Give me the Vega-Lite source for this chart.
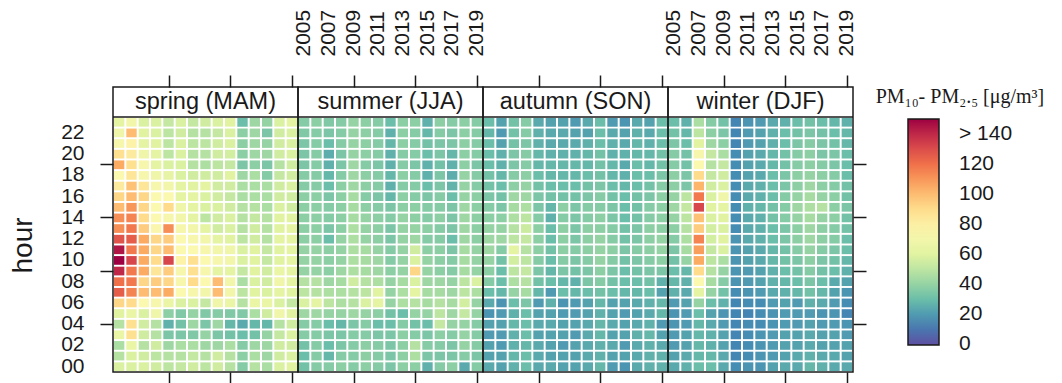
{
"$schema": "https://vega.github.io/schema/vega-lite/v6.json",
"background": "white",
"padding": {"left": 8, "top": 8, "right": 5, "bottom": 5},
"datasets": {
"sp": [
{"y":2005,"h":23,"v":62},{"y":2006,"h":23,"v":70},{"y":2007,"h":23,"v":58},{"y":2008,"h":23,"v":58},{"y":2009,"h":23,"v":52},{"y":2010,"h":23,"v":58},{"y":2011,"h":23,"v":52},{"y":2012,"h":23,"v":55},{"y":2013,"h":23,"v":58},{"y":2014,"h":23,"v":60},{"y":2015,"h":23,"v":30},{"y":2016,"h":23,"v":42},{"y":2017,"h":23,"v":40},{"y":2018,"h":23,"v":58},{"y":2019,"h":23,"v":62},
{"y":2005,"h":22,"v":68},{"y":2006,"h":22,"v":100},{"y":2007,"h":22,"v":60},{"y":2008,"h":22,"v":58},{"y":2009,"h":22,"v":50},{"y":2010,"h":22,"v":55},{"y":2011,"h":22,"v":48},{"y":2012,"h":22,"v":48},{"y":2013,"h":22,"v":52},{"y":2014,"h":22,"v":58},{"y":2015,"h":22,"v":38},{"y":2016,"h":22,"v":42},{"y":2017,"h":22,"v":34},{"y":2018,"h":22,"v":55},{"y":2019,"h":22,"v":58},
{"y":2005,"h":21,"v":72},{"y":2006,"h":21,"v":78},{"y":2007,"h":21,"v":62},{"y":2008,"h":21,"v":60},{"y":2009,"h":21,"v":50},{"y":2010,"h":21,"v":58},{"y":2011,"h":21,"v":50},{"y":2012,"h":21,"v":50},{"y":2013,"h":21,"v":55},{"y":2014,"h":21,"v":58},{"y":2015,"h":21,"v":38},{"y":2016,"h":21,"v":42},{"y":2017,"h":21,"v":40},{"y":2018,"h":21,"v":55},{"y":2019,"h":21,"v":58},
{"y":2005,"h":20,"v":88},{"y":2006,"h":20,"v":82},{"y":2007,"h":20,"v":68},{"y":2008,"h":20,"v":62},{"y":2009,"h":20,"v":50},{"y":2010,"h":20,"v":58},{"y":2011,"h":20,"v":48},{"y":2012,"h":20,"v":48},{"y":2013,"h":20,"v":55},{"y":2014,"h":20,"v":56},{"y":2015,"h":20,"v":38},{"y":2016,"h":20,"v":42},{"y":2017,"h":20,"v":42},{"y":2018,"h":20,"v":55},{"y":2019,"h":20,"v":58},
{"y":2005,"h":19,"v":105},{"y":2006,"h":19,"v":88},{"y":2007,"h":19,"v":72},{"y":2008,"h":19,"v":62},{"y":2009,"h":19,"v":58},{"y":2010,"h":19,"v":58},{"y":2011,"h":19,"v":48},{"y":2012,"h":19,"v":46},{"y":2013,"h":19,"v":50},{"y":2014,"h":19,"v":52},{"y":2015,"h":19,"v":34},{"y":2016,"h":19,"v":38},{"y":2017,"h":19,"v":34},{"y":2018,"h":19,"v":48},{"y":2019,"h":19,"v":55},
{"y":2005,"h":18,"v":75},{"y":2006,"h":18,"v":85},{"y":2007,"h":18,"v":72},{"y":2008,"h":18,"v":68},{"y":2009,"h":18,"v":64},{"y":2010,"h":18,"v":58},{"y":2011,"h":18,"v":55},{"y":2012,"h":18,"v":55},{"y":2013,"h":18,"v":55},{"y":2014,"h":18,"v":60},{"y":2015,"h":18,"v":42},{"y":2016,"h":18,"v":45},{"y":2017,"h":18,"v":36},{"y":2018,"h":18,"v":52},{"y":2019,"h":18,"v":55},
{"y":2005,"h":17,"v":82},{"y":2006,"h":17,"v":98},{"y":2007,"h":17,"v":85},{"y":2008,"h":17,"v":72},{"y":2009,"h":17,"v":70},{"y":2010,"h":17,"v":62},{"y":2011,"h":17,"v":60},{"y":2012,"h":17,"v":62},{"y":2013,"h":17,"v":55},{"y":2014,"h":17,"v":55},{"y":2015,"h":17,"v":45},{"y":2016,"h":17,"v":45},{"y":2017,"h":17,"v":45},{"y":2018,"h":17,"v":55},{"y":2019,"h":17,"v":58},
{"y":2005,"h":16,"v":92},{"y":2006,"h":16,"v":100},{"y":2007,"h":16,"v":92},{"y":2008,"h":16,"v":75},{"y":2009,"h":16,"v":75},{"y":2010,"h":16,"v":62},{"y":2011,"h":16,"v":62},{"y":2012,"h":16,"v":58},{"y":2013,"h":16,"v":55},{"y":2014,"h":16,"v":52},{"y":2015,"h":16,"v":45},{"y":2016,"h":16,"v":45},{"y":2017,"h":16,"v":45},{"y":2018,"h":16,"v":55},{"y":2019,"h":16,"v":55},
{"y":2005,"h":15,"v":100},{"y":2006,"h":15,"v":110},{"y":2007,"h":15,"v":92},{"y":2008,"h":15,"v":75},{"y":2009,"h":15,"v":90},{"y":2010,"h":15,"v":68},{"y":2011,"h":15,"v":62},{"y":2012,"h":15,"v":58},{"y":2013,"h":15,"v":58},{"y":2014,"h":15,"v":55},{"y":2015,"h":15,"v":48},{"y":2016,"h":15,"v":48},{"y":2017,"h":15,"v":45},{"y":2018,"h":15,"v":58},{"y":2019,"h":15,"v":55},
{"y":2005,"h":14,"v":112},{"y":2006,"h":14,"v":115},{"y":2007,"h":14,"v":90},{"y":2008,"h":14,"v":75},{"y":2009,"h":14,"v":72},{"y":2010,"h":14,"v":70},{"y":2011,"h":14,"v":62},{"y":2012,"h":14,"v":50},{"y":2013,"h":14,"v":55},{"y":2014,"h":14,"v":58},{"y":2015,"h":14,"v":48},{"y":2016,"h":14,"v":52},{"y":2017,"h":14,"v":48},{"y":2018,"h":14,"v":60},{"y":2019,"h":14,"v":60},
{"y":2005,"h":13,"v":112},{"y":2006,"h":13,"v":118},{"y":2007,"h":13,"v":95},{"y":2008,"h":13,"v":76},{"y":2009,"h":13,"v":112},{"y":2010,"h":13,"v":72},{"y":2011,"h":13,"v":70},{"y":2012,"h":13,"v":62},{"y":2013,"h":13,"v":55},{"y":2014,"h":13,"v":58},{"y":2015,"h":13,"v":48},{"y":2016,"h":13,"v":55},{"y":2017,"h":13,"v":48},{"y":2018,"h":13,"v":60},{"y":2019,"h":13,"v":62},
{"y":2005,"h":12,"v":128},{"y":2006,"h":12,"v":125},{"y":2007,"h":12,"v":105},{"y":2008,"h":12,"v":92},{"y":2009,"h":12,"v":95},{"y":2010,"h":12,"v":75},{"y":2011,"h":12,"v":72},{"y":2012,"h":12,"v":70},{"y":2013,"h":12,"v":62},{"y":2014,"h":12,"v":60},{"y":2015,"h":12,"v":50},{"y":2016,"h":12,"v":55},{"y":2017,"h":12,"v":48},{"y":2018,"h":12,"v":62},{"y":2019,"h":12,"v":62},
{"y":2005,"h":11,"v":145},{"y":2006,"h":11,"v":118},{"y":2007,"h":11,"v":105},{"y":2008,"h":11,"v":92},{"y":2009,"h":11,"v":100},{"y":2010,"h":11,"v":75},{"y":2011,"h":11,"v":75},{"y":2012,"h":11,"v":72},{"y":2013,"h":11,"v":70},{"y":2014,"h":11,"v":68},{"y":2015,"h":11,"v":58},{"y":2016,"h":11,"v":60},{"y":2017,"h":11,"v":52},{"y":2018,"h":11,"v":60},{"y":2019,"h":11,"v":62},
{"y":2005,"h":10,"v":158},{"y":2006,"h":10,"v":132},{"y":2007,"h":10,"v":105},{"y":2008,"h":10,"v":90},{"y":2009,"h":10,"v":132},{"y":2010,"h":10,"v":78},{"y":2011,"h":10,"v":88},{"y":2012,"h":10,"v":75},{"y":2013,"h":10,"v":72},{"y":2014,"h":10,"v":70},{"y":2015,"h":10,"v":58},{"y":2016,"h":10,"v":60},{"y":2017,"h":10,"v":52},{"y":2018,"h":10,"v":60},{"y":2019,"h":10,"v":62},
{"y":2005,"h":9,"v":140},{"y":2006,"h":9,"v":118},{"y":2007,"h":9,"v":105},{"y":2008,"h":9,"v":85},{"y":2009,"h":9,"v":95},{"y":2010,"h":9,"v":72},{"y":2011,"h":9,"v":88},{"y":2012,"h":9,"v":72},{"y":2013,"h":9,"v":62},{"y":2014,"h":9,"v":62},{"y":2015,"h":9,"v":52},{"y":2016,"h":9,"v":60},{"y":2017,"h":9,"v":55},{"y":2018,"h":9,"v":65},{"y":2019,"h":9,"v":62},
{"y":2005,"h":8,"v":120},{"y":2006,"h":8,"v":118},{"y":2007,"h":8,"v":92},{"y":2008,"h":8,"v":95},{"y":2009,"h":8,"v":92},{"y":2010,"h":8,"v":72},{"y":2011,"h":8,"v":90},{"y":2012,"h":8,"v":75},{"y":2013,"h":8,"v":100},{"y":2014,"h":8,"v":70},{"y":2015,"h":8,"v":45},{"y":2016,"h":8,"v":58},{"y":2017,"h":8,"v":55},{"y":2018,"h":8,"v":68},{"y":2019,"h":8,"v":62},
{"y":2005,"h":7,"v":125},{"y":2006,"h":7,"v":115},{"y":2007,"h":7,"v":100},{"y":2008,"h":7,"v":100},{"y":2009,"h":7,"v":105},{"y":2010,"h":7,"v":75},{"y":2011,"h":7,"v":72},{"y":2012,"h":7,"v":70},{"y":2013,"h":7,"v":100},{"y":2014,"h":7,"v":70},{"y":2015,"h":7,"v":50},{"y":2016,"h":7,"v":60},{"y":2017,"h":7,"v":58},{"y":2018,"h":7,"v":62},{"y":2019,"h":7,"v":60},
{"y":2005,"h":6,"v":92},{"y":2006,"h":6,"v":90},{"y":2007,"h":6,"v":75},{"y":2008,"h":6,"v":72},{"y":2009,"h":6,"v":65},{"y":2010,"h":6,"v":58},{"y":2011,"h":6,"v":58},{"y":2012,"h":6,"v":52},{"y":2013,"h":6,"v":68},{"y":2014,"h":6,"v":65},{"y":2015,"h":6,"v":48},{"y":2016,"h":6,"v":65},{"y":2017,"h":6,"v":65},{"y":2018,"h":6,"v":58},{"y":2019,"h":6,"v":52},
{"y":2005,"h":5,"v":60},{"y":2006,"h":5,"v":65},{"y":2007,"h":5,"v":58},{"y":2008,"h":5,"v":68},{"y":2009,"h":5,"v":38},{"y":2010,"h":5,"v":35},{"y":2011,"h":5,"v":40},{"y":2012,"h":5,"v":35},{"y":2013,"h":5,"v":36},{"y":2014,"h":5,"v":35},{"y":2015,"h":5,"v":35},{"y":2016,"h":5,"v":45},{"y":2017,"h":5,"v":55},{"y":2018,"h":5,"v":68},{"y":2019,"h":5,"v":60},
{"y":2005,"h":4,"v":48},{"y":2006,"h":4,"v":88},{"y":2007,"h":4,"v":55},{"y":2008,"h":4,"v":48},{"y":2009,"h":4,"v":26},{"y":2010,"h":4,"v":32},{"y":2011,"h":4,"v":42},{"y":2012,"h":4,"v":34},{"y":2013,"h":4,"v":42},{"y":2014,"h":4,"v":28},{"y":2015,"h":4,"v":24},{"y":2016,"h":4,"v":28},{"y":2017,"h":4,"v":28},{"y":2018,"h":4,"v":48},{"y":2019,"h":4,"v":55},
{"y":2005,"h":3,"v":65},{"y":2006,"h":3,"v":88},{"y":2007,"h":3,"v":55},{"y":2008,"h":3,"v":48},{"y":2009,"h":3,"v":34},{"y":2010,"h":3,"v":34},{"y":2011,"h":3,"v":35},{"y":2012,"h":3,"v":40},{"y":2013,"h":3,"v":34},{"y":2014,"h":3,"v":32},{"y":2015,"h":3,"v":30},{"y":2016,"h":3,"v":32},{"y":2017,"h":3,"v":40},{"y":2018,"h":3,"v":52},{"y":2019,"h":3,"v":58},
{"y":2005,"h":2,"v":45},{"y":2006,"h":2,"v":65},{"y":2007,"h":2,"v":48},{"y":2008,"h":2,"v":55},{"y":2009,"h":2,"v":42},{"y":2010,"h":2,"v":45},{"y":2011,"h":2,"v":45},{"y":2012,"h":2,"v":42},{"y":2013,"h":2,"v":42},{"y":2014,"h":2,"v":45},{"y":2015,"h":2,"v":36},{"y":2016,"h":2,"v":42},{"y":2017,"h":2,"v":42},{"y":2018,"h":2,"v":55},{"y":2019,"h":2,"v":55},
{"y":2005,"h":1,"v":48},{"y":2006,"h":1,"v":58},{"y":2007,"h":1,"v":55},{"y":2008,"h":1,"v":50},{"y":2009,"h":1,"v":48},{"y":2010,"h":1,"v":48},{"y":2011,"h":1,"v":52},{"y":2012,"h":1,"v":48},{"y":2013,"h":1,"v":55},{"y":2014,"h":1,"v":48},{"y":2015,"h":1,"v":38},{"y":2016,"h":1,"v":45},{"y":2017,"h":1,"v":42},{"y":2018,"h":1,"v":55},{"y":2019,"h":1,"v":58},
{"y":2005,"h":0,"v":58},{"y":2006,"h":0,"v":58},{"y":2007,"h":0,"v":58},{"y":2008,"h":0,"v":55},{"y":2009,"h":0,"v":50},{"y":2010,"h":0,"v":52},{"y":2011,"h":0,"v":55},{"y":2012,"h":0,"v":50},{"y":2013,"h":0,"v":55},{"y":2014,"h":0,"v":48},{"y":2015,"h":0,"v":36},{"y":2016,"h":0,"v":48},{"y":2017,"h":0,"v":45},{"y":2018,"h":0,"v":58},{"y":2019,"h":0,"v":60}
],
"su": [
{"y":2005,"h":23,"v":36},{"y":2006,"h":23,"v":38},{"y":2007,"h":23,"v":35},{"y":2008,"h":23,"v":36},{"y":2009,"h":23,"v":40},{"y":2010,"h":23,"v":38},{"y":2011,"h":23,"v":36},{"y":2012,"h":23,"v":30},{"y":2013,"h":23,"v":38},{"y":2014,"h":23,"v":38},{"y":2015,"h":23,"v":26},{"y":2016,"h":23,"v":38},{"y":2017,"h":23,"v":36},{"y":2018,"h":23,"v":38},{"y":2019,"h":23,"v":36},
{"y":2005,"h":22,"v":35},{"y":2006,"h":22,"v":36},{"y":2007,"h":22,"v":34},{"y":2008,"h":22,"v":36},{"y":2009,"h":22,"v":40},{"y":2010,"h":22,"v":38},{"y":2011,"h":22,"v":36},{"y":2012,"h":22,"v":26},{"y":2013,"h":22,"v":38},{"y":2014,"h":22,"v":36},{"y":2015,"h":22,"v":28},{"y":2016,"h":22,"v":36},{"y":2017,"h":22,"v":34},{"y":2018,"h":22,"v":38},{"y":2019,"h":22,"v":36},
{"y":2005,"h":21,"v":34},{"y":2006,"h":21,"v":36},{"y":2007,"h":21,"v":30},{"y":2008,"h":21,"v":36},{"y":2009,"h":21,"v":40},{"y":2010,"h":21,"v":38},{"y":2011,"h":21,"v":36},{"y":2012,"h":21,"v":28},{"y":2013,"h":21,"v":38},{"y":2014,"h":21,"v":36},{"y":2015,"h":21,"v":32},{"y":2016,"h":21,"v":34},{"y":2017,"h":21,"v":34},{"y":2018,"h":21,"v":38},{"y":2019,"h":21,"v":36},
{"y":2005,"h":20,"v":34},{"y":2006,"h":20,"v":36},{"y":2007,"h":20,"v":25},{"y":2008,"h":20,"v":34},{"y":2009,"h":20,"v":40},{"y":2010,"h":20,"v":38},{"y":2011,"h":20,"v":36},{"y":2012,"h":20,"v":26},{"y":2013,"h":20,"v":36},{"y":2014,"h":20,"v":36},{"y":2015,"h":20,"v":30},{"y":2016,"h":20,"v":34},{"y":2017,"h":20,"v":28},{"y":2018,"h":20,"v":38},{"y":2019,"h":20,"v":36},
{"y":2005,"h":19,"v":34},{"y":2006,"h":19,"v":36},{"y":2007,"h":19,"v":26},{"y":2008,"h":19,"v":34},{"y":2009,"h":19,"v":42},{"y":2010,"h":19,"v":36},{"y":2011,"h":19,"v":34},{"y":2012,"h":19,"v":26},{"y":2013,"h":19,"v":36},{"y":2014,"h":19,"v":34},{"y":2015,"h":19,"v":26},{"y":2016,"h":19,"v":32},{"y":2017,"h":19,"v":26},{"y":2018,"h":19,"v":38},{"y":2019,"h":19,"v":34},
{"y":2005,"h":18,"v":36},{"y":2006,"h":18,"v":36},{"y":2007,"h":18,"v":28},{"y":2008,"h":18,"v":36},{"y":2009,"h":18,"v":42},{"y":2010,"h":18,"v":38},{"y":2011,"h":18,"v":36},{"y":2012,"h":18,"v":28},{"y":2013,"h":18,"v":38},{"y":2014,"h":18,"v":36},{"y":2015,"h":18,"v":26},{"y":2016,"h":18,"v":34},{"y":2017,"h":18,"v":25},{"y":2018,"h":18,"v":40},{"y":2019,"h":18,"v":36},
{"y":2005,"h":17,"v":36},{"y":2006,"h":17,"v":36},{"y":2007,"h":17,"v":30},{"y":2008,"h":17,"v":38},{"y":2009,"h":17,"v":42},{"y":2010,"h":17,"v":38},{"y":2011,"h":17,"v":36},{"y":2012,"h":17,"v":26},{"y":2013,"h":17,"v":36},{"y":2014,"h":17,"v":36},{"y":2015,"h":17,"v":30},{"y":2016,"h":17,"v":34},{"y":2017,"h":17,"v":27},{"y":2018,"h":17,"v":40},{"y":2019,"h":17,"v":36},
{"y":2005,"h":16,"v":38},{"y":2006,"h":16,"v":38},{"y":2007,"h":16,"v":34},{"y":2008,"h":16,"v":38},{"y":2009,"h":16,"v":44},{"y":2010,"h":16,"v":36},{"y":2011,"h":16,"v":34},{"y":2012,"h":16,"v":28},{"y":2013,"h":16,"v":38},{"y":2014,"h":16,"v":36},{"y":2015,"h":16,"v":34},{"y":2016,"h":16,"v":36},{"y":2017,"h":16,"v":30},{"y":2018,"h":16,"v":40},{"y":2019,"h":16,"v":38},
{"y":2005,"h":15,"v":38},{"y":2006,"h":15,"v":38},{"y":2007,"h":15,"v":36},{"y":2008,"h":15,"v":38},{"y":2009,"h":15,"v":44},{"y":2010,"h":15,"v":38},{"y":2011,"h":15,"v":36},{"y":2012,"h":15,"v":34},{"y":2013,"h":15,"v":38},{"y":2014,"h":15,"v":38},{"y":2015,"h":15,"v":36},{"y":2016,"h":15,"v":36},{"y":2017,"h":15,"v":34},{"y":2018,"h":15,"v":42},{"y":2019,"h":15,"v":38},
{"y":2005,"h":14,"v":38},{"y":2006,"h":14,"v":38},{"y":2007,"h":14,"v":36},{"y":2008,"h":14,"v":38},{"y":2009,"h":14,"v":44},{"y":2010,"h":14,"v":40},{"y":2011,"h":14,"v":38},{"y":2012,"h":14,"v":36},{"y":2013,"h":14,"v":40},{"y":2014,"h":14,"v":38},{"y":2015,"h":14,"v":36},{"y":2016,"h":14,"v":38},{"y":2017,"h":14,"v":34},{"y":2018,"h":14,"v":42},{"y":2019,"h":14,"v":38},
{"y":2005,"h":13,"v":38},{"y":2006,"h":13,"v":38},{"y":2007,"h":13,"v":34},{"y":2008,"h":13,"v":38},{"y":2009,"h":13,"v":46},{"y":2010,"h":13,"v":40},{"y":2011,"h":13,"v":38},{"y":2012,"h":13,"v":34},{"y":2013,"h":13,"v":40},{"y":2014,"h":13,"v":40},{"y":2015,"h":13,"v":38},{"y":2016,"h":13,"v":36},{"y":2017,"h":13,"v":34},{"y":2018,"h":13,"v":42},{"y":2019,"h":13,"v":38},
{"y":2005,"h":12,"v":38},{"y":2006,"h":12,"v":38},{"y":2007,"h":12,"v":30},{"y":2008,"h":12,"v":40},{"y":2009,"h":12,"v":46},{"y":2010,"h":12,"v":40},{"y":2011,"h":12,"v":38},{"y":2012,"h":12,"v":34},{"y":2013,"h":12,"v":40},{"y":2014,"h":12,"v":42},{"y":2015,"h":12,"v":36},{"y":2016,"h":12,"v":36},{"y":2017,"h":12,"v":30},{"y":2018,"h":12,"v":42},{"y":2019,"h":12,"v":38},
{"y":2005,"h":11,"v":40},{"y":2006,"h":11,"v":40},{"y":2007,"h":11,"v":38},{"y":2008,"h":11,"v":40},{"y":2009,"h":11,"v":46},{"y":2010,"h":11,"v":44},{"y":2011,"h":11,"v":40},{"y":2012,"h":11,"v":36},{"y":2013,"h":11,"v":40},{"y":2014,"h":11,"v":55},{"y":2015,"h":11,"v":38},{"y":2016,"h":11,"v":38},{"y":2017,"h":11,"v":34},{"y":2018,"h":11,"v":44},{"y":2019,"h":11,"v":40},
{"y":2005,"h":10,"v":40},{"y":2006,"h":10,"v":40},{"y":2007,"h":10,"v":38},{"y":2008,"h":10,"v":40},{"y":2009,"h":10,"v":46},{"y":2010,"h":10,"v":44},{"y":2011,"h":10,"v":42},{"y":2012,"h":10,"v":36},{"y":2013,"h":10,"v":40},{"y":2014,"h":10,"v":58},{"y":2015,"h":10,"v":40},{"y":2016,"h":10,"v":38},{"y":2017,"h":10,"v":36},{"y":2018,"h":10,"v":44},{"y":2019,"h":10,"v":40},
{"y":2005,"h":9,"v":40},{"y":2006,"h":9,"v":40},{"y":2007,"h":9,"v":38},{"y":2008,"h":9,"v":42},{"y":2009,"h":9,"v":46},{"y":2010,"h":9,"v":44},{"y":2011,"h":9,"v":42},{"y":2012,"h":9,"v":38},{"y":2013,"h":9,"v":40},{"y":2014,"h":9,"v":92},{"y":2015,"h":9,"v":40},{"y":2016,"h":9,"v":38},{"y":2017,"h":9,"v":36},{"y":2018,"h":9,"v":44},{"y":2019,"h":9,"v":40},
{"y":2005,"h":8,"v":48},{"y":2006,"h":8,"v":48},{"y":2007,"h":8,"v":42},{"y":2008,"h":8,"v":44},{"y":2009,"h":8,"v":55},{"y":2010,"h":8,"v":48},{"y":2011,"h":8,"v":46},{"y":2012,"h":8,"v":40},{"y":2013,"h":8,"v":44},{"y":2014,"h":8,"v":58},{"y":2015,"h":8,"v":42},{"y":2016,"h":8,"v":42},{"y":2017,"h":8,"v":40},{"y":2018,"h":8,"v":50},{"y":2019,"h":8,"v":58},
{"y":2005,"h":7,"v":50},{"y":2006,"h":7,"v":48},{"y":2007,"h":7,"v":46},{"y":2008,"h":7,"v":46},{"y":2009,"h":7,"v":48},{"y":2010,"h":7,"v":50},{"y":2011,"h":7,"v":60},{"y":2012,"h":7,"v":40},{"y":2013,"h":7,"v":46},{"y":2014,"h":7,"v":62},{"y":2015,"h":7,"v":44},{"y":2016,"h":7,"v":44},{"y":2017,"h":7,"v":42},{"y":2018,"h":7,"v":50},{"y":2019,"h":7,"v":46},
{"y":2005,"h":6,"v":58},{"y":2006,"h":6,"v":62},{"y":2007,"h":6,"v":50},{"y":2008,"h":6,"v":46},{"y":2009,"h":6,"v":48},{"y":2010,"h":6,"v":58},{"y":2011,"h":6,"v":62},{"y":2012,"h":6,"v":40},{"y":2013,"h":6,"v":46},{"y":2014,"h":6,"v":48},{"y":2015,"h":6,"v":44},{"y":2016,"h":6,"v":48},{"y":2017,"h":6,"v":44},{"y":2018,"h":6,"v":56},{"y":2019,"h":6,"v":40},
{"y":2005,"h":5,"v":42},{"y":2006,"h":5,"v":42},{"y":2007,"h":5,"v":40},{"y":2008,"h":5,"v":40},{"y":2009,"h":5,"v":42},{"y":2010,"h":5,"v":40},{"y":2011,"h":5,"v":38},{"y":2012,"h":5,"v":32},{"y":2013,"h":5,"v":30},{"y":2014,"h":5,"v":40},{"y":2015,"h":5,"v":40},{"y":2016,"h":5,"v":50},{"y":2017,"h":5,"v":42},{"y":2018,"h":5,"v":52},{"y":2019,"h":5,"v":40},
{"y":2005,"h":4,"v":36},{"y":2006,"h":4,"v":36},{"y":2007,"h":4,"v":30},{"y":2008,"h":4,"v":28},{"y":2009,"h":4,"v":34},{"y":2010,"h":4,"v":36},{"y":2011,"h":4,"v":30},{"y":2012,"h":4,"v":30},{"y":2013,"h":4,"v":36},{"y":2014,"h":4,"v":32},{"y":2015,"h":4,"v":30},{"y":2016,"h":4,"v":52},{"y":2017,"h":4,"v":40},{"y":2018,"h":4,"v":40},{"y":2019,"h":4,"v":36},
{"y":2005,"h":3,"v":36},{"y":2006,"h":3,"v":36},{"y":2007,"h":3,"v":34},{"y":2008,"h":3,"v":34},{"y":2009,"h":3,"v":36},{"y":2010,"h":3,"v":36},{"y":2011,"h":3,"v":34},{"y":2012,"h":3,"v":34},{"y":2013,"h":3,"v":38},{"y":2014,"h":3,"v":36},{"y":2015,"h":3,"v":34},{"y":2016,"h":3,"v":38},{"y":2017,"h":3,"v":36},{"y":2018,"h":3,"v":40},{"y":2019,"h":3,"v":36},
{"y":2005,"h":2,"v":32},{"y":2006,"h":2,"v":36},{"y":2007,"h":2,"v":30},{"y":2008,"h":2,"v":34},{"y":2009,"h":2,"v":36},{"y":2010,"h":2,"v":38},{"y":2011,"h":2,"v":36},{"y":2012,"h":2,"v":34},{"y":2013,"h":2,"v":38},{"y":2014,"h":2,"v":48},{"y":2015,"h":2,"v":36},{"y":2016,"h":2,"v":36},{"y":2017,"h":2,"v":34},{"y":2018,"h":2,"v":40},{"y":2019,"h":2,"v":36},
{"y":2005,"h":1,"v":30},{"y":2006,"h":1,"v":36},{"y":2007,"h":1,"v":28},{"y":2008,"h":1,"v":36},{"y":2009,"h":1,"v":36},{"y":2010,"h":1,"v":38},{"y":2011,"h":1,"v":36},{"y":2012,"h":1,"v":34},{"y":2013,"h":1,"v":38},{"y":2014,"h":1,"v":46},{"y":2015,"h":1,"v":34},{"y":2016,"h":1,"v":34},{"y":2017,"h":1,"v":34},{"y":2018,"h":1,"v":36},{"y":2019,"h":1,"v":34},
{"y":2005,"h":0,"v":32},{"y":2006,"h":0,"v":36},{"y":2007,"h":0,"v":36},{"y":2008,"h":0,"v":38},{"y":2009,"h":0,"v":36},{"y":2010,"h":0,"v":38},{"y":2011,"h":0,"v":36},{"y":2012,"h":0,"v":34},{"y":2013,"h":0,"v":38},{"y":2014,"h":0,"v":38},{"y":2015,"h":0,"v":26},{"y":2016,"h":0,"v":36},{"y":2017,"h":0,"v":38},{"y":2018,"h":0,"v":24},{"y":2019,"h":0,"v":36}
],
"au": [
{"y":2005,"h":23,"v":30},{"y":2006,"h":23,"v":22},{"y":2007,"h":23,"v":32},{"y":2008,"h":23,"v":36},{"y":2009,"h":23,"v":24},{"y":2010,"h":23,"v":22},{"y":2011,"h":23,"v":22},{"y":2012,"h":23,"v":20},{"y":2013,"h":23,"v":24},{"y":2014,"h":23,"v":30},{"y":2015,"h":23,"v":20},{"y":2016,"h":23,"v":18},{"y":2017,"h":23,"v":24},{"y":2018,"h":23,"v":22},{"y":2019,"h":23,"v":30},
{"y":2005,"h":22,"v":28},{"y":2006,"h":22,"v":20},{"y":2007,"h":22,"v":32},{"y":2008,"h":22,"v":36},{"y":2009,"h":22,"v":26},{"y":2010,"h":22,"v":24},{"y":2011,"h":22,"v":24},{"y":2012,"h":22,"v":22},{"y":2013,"h":22,"v":22},{"y":2014,"h":22,"v":30},{"y":2015,"h":22,"v":24},{"y":2016,"h":22,"v":22},{"y":2017,"h":22,"v":26},{"y":2018,"h":22,"v":24},{"y":2019,"h":22,"v":30},
{"y":2005,"h":21,"v":30},{"y":2006,"h":21,"v":22},{"y":2007,"h":21,"v":32},{"y":2008,"h":21,"v":34},{"y":2009,"h":21,"v":26},{"y":2010,"h":21,"v":24},{"y":2011,"h":21,"v":24},{"y":2012,"h":21,"v":24},{"y":2013,"h":21,"v":26},{"y":2014,"h":21,"v":30},{"y":2015,"h":21,"v":26},{"y":2016,"h":21,"v":24},{"y":2017,"h":21,"v":28},{"y":2018,"h":21,"v":26},{"y":2019,"h":21,"v":30},
{"y":2005,"h":20,"v":30},{"y":2006,"h":20,"v":26},{"y":2007,"h":20,"v":34},{"y":2008,"h":20,"v":36},{"y":2009,"h":20,"v":28},{"y":2010,"h":20,"v":26},{"y":2011,"h":20,"v":26},{"y":2012,"h":20,"v":26},{"y":2013,"h":20,"v":28},{"y":2014,"h":20,"v":32},{"y":2015,"h":20,"v":26},{"y":2016,"h":20,"v":26},{"y":2017,"h":20,"v":28},{"y":2018,"h":20,"v":28},{"y":2019,"h":20,"v":32},
{"y":2005,"h":19,"v":30},{"y":2006,"h":19,"v":26},{"y":2007,"h":19,"v":34},{"y":2008,"h":19,"v":36},{"y":2009,"h":19,"v":28},{"y":2010,"h":19,"v":28},{"y":2011,"h":19,"v":28},{"y":2012,"h":19,"v":28},{"y":2013,"h":19,"v":28},{"y":2014,"h":19,"v":32},{"y":2015,"h":19,"v":28},{"y":2016,"h":19,"v":24},{"y":2017,"h":19,"v":30},{"y":2018,"h":19,"v":28},{"y":2019,"h":19,"v":32},
{"y":2005,"h":18,"v":32},{"y":2006,"h":18,"v":28},{"y":2007,"h":18,"v":36},{"y":2008,"h":18,"v":38},{"y":2009,"h":18,"v":30},{"y":2010,"h":18,"v":28},{"y":2011,"h":18,"v":28},{"y":2012,"h":18,"v":28},{"y":2013,"h":18,"v":30},{"y":2014,"h":18,"v":32},{"y":2015,"h":18,"v":28},{"y":2016,"h":18,"v":26},{"y":2017,"h":18,"v":30},{"y":2018,"h":18,"v":30},{"y":2019,"h":18,"v":34},
{"y":2005,"h":17,"v":32},{"y":2006,"h":17,"v":30},{"y":2007,"h":17,"v":38},{"y":2008,"h":17,"v":40},{"y":2009,"h":17,"v":32},{"y":2010,"h":17,"v":30},{"y":2011,"h":17,"v":30},{"y":2012,"h":17,"v":30},{"y":2013,"h":17,"v":32},{"y":2014,"h":17,"v":34},{"y":2015,"h":17,"v":30},{"y":2016,"h":17,"v":28},{"y":2017,"h":17,"v":30},{"y":2018,"h":17,"v":32},{"y":2019,"h":17,"v":36},
{"y":2005,"h":16,"v":34},{"y":2006,"h":16,"v":32},{"y":2007,"h":16,"v":42},{"y":2008,"h":16,"v":42},{"y":2009,"h":16,"v":34},{"y":2010,"h":16,"v":32},{"y":2011,"h":16,"v":32},{"y":2012,"h":16,"v":32},{"y":2013,"h":16,"v":34},{"y":2014,"h":16,"v":36},{"y":2015,"h":16,"v":32},{"y":2016,"h":16,"v":30},{"y":2017,"h":16,"v":32},{"y":2018,"h":16,"v":34},{"y":2019,"h":16,"v":38},
{"y":2005,"h":15,"v":36},{"y":2006,"h":15,"v":34},{"y":2007,"h":15,"v":44},{"y":2008,"h":15,"v":46},{"y":2009,"h":15,"v":34},{"y":2010,"h":15,"v":28},{"y":2011,"h":15,"v":38},{"y":2012,"h":15,"v":34},{"y":2013,"h":15,"v":36},{"y":2014,"h":15,"v":36},{"y":2015,"h":15,"v":34},{"y":2016,"h":15,"v":30},{"y":2017,"h":15,"v":32},{"y":2018,"h":15,"v":36},{"y":2019,"h":15,"v":38},
{"y":2005,"h":14,"v":38},{"y":2006,"h":14,"v":38},{"y":2007,"h":14,"v":46},{"y":2008,"h":14,"v":50},{"y":2009,"h":14,"v":36},{"y":2010,"h":14,"v":26},{"y":2011,"h":14,"v":36},{"y":2012,"h":14,"v":34},{"y":2013,"h":14,"v":36},{"y":2014,"h":14,"v":38},{"y":2015,"h":14,"v":34},{"y":2016,"h":14,"v":30},{"y":2017,"h":14,"v":32},{"y":2018,"h":14,"v":36},{"y":2019,"h":14,"v":38},
{"y":2005,"h":13,"v":40},{"y":2006,"h":13,"v":40},{"y":2007,"h":13,"v":48},{"y":2008,"h":13,"v":54},{"y":2009,"h":13,"v":38},{"y":2010,"h":13,"v":30},{"y":2011,"h":13,"v":38},{"y":2012,"h":13,"v":34},{"y":2013,"h":13,"v":38},{"y":2014,"h":13,"v":38},{"y":2015,"h":13,"v":36},{"y":2016,"h":13,"v":32},{"y":2017,"h":13,"v":34},{"y":2018,"h":13,"v":38},{"y":2019,"h":13,"v":38},
{"y":2005,"h":12,"v":42},{"y":2006,"h":12,"v":42},{"y":2007,"h":12,"v":50},{"y":2008,"h":12,"v":52},{"y":2009,"h":12,"v":38},{"y":2010,"h":12,"v":30},{"y":2011,"h":12,"v":38},{"y":2012,"h":12,"v":34},{"y":2013,"h":12,"v":38},{"y":2014,"h":12,"v":40},{"y":2015,"h":12,"v":36},{"y":2016,"h":12,"v":32},{"y":2017,"h":12,"v":34},{"y":2018,"h":12,"v":38},{"y":2019,"h":12,"v":40},
{"y":2005,"h":11,"v":42},{"y":2006,"h":11,"v":36},{"y":2007,"h":11,"v":62},{"y":2008,"h":11,"v":48},{"y":2009,"h":11,"v":38},{"y":2010,"h":11,"v":32},{"y":2011,"h":11,"v":38},{"y":2012,"h":11,"v":36},{"y":2013,"h":11,"v":38},{"y":2014,"h":11,"v":40},{"y":2015,"h":11,"v":38},{"y":2016,"h":11,"v":34},{"y":2017,"h":11,"v":36},{"y":2018,"h":11,"v":38},{"y":2019,"h":11,"v":40},
{"y":2005,"h":10,"v":40},{"y":2006,"h":10,"v":32},{"y":2007,"h":10,"v":56},{"y":2008,"h":10,"v":50},{"y":2009,"h":10,"v":36},{"y":2010,"h":10,"v":30},{"y":2011,"h":10,"v":36},{"y":2012,"h":10,"v":34},{"y":2013,"h":10,"v":36},{"y":2014,"h":10,"v":40},{"y":2015,"h":10,"v":36},{"y":2016,"h":10,"v":32},{"y":2017,"h":10,"v":34},{"y":2018,"h":10,"v":36},{"y":2019,"h":10,"v":38},
{"y":2005,"h":9,"v":38},{"y":2006,"h":9,"v":30},{"y":2007,"h":9,"v":50},{"y":2008,"h":9,"v":52},{"y":2009,"h":9,"v":34},{"y":2010,"h":9,"v":28},{"y":2011,"h":9,"v":34},{"y":2012,"h":9,"v":32},{"y":2013,"h":9,"v":34},{"y":2014,"h":9,"v":38},{"y":2015,"h":9,"v":34},{"y":2016,"h":9,"v":30},{"y":2017,"h":9,"v":32},{"y":2018,"h":9,"v":34},{"y":2019,"h":9,"v":34},
{"y":2005,"h":8,"v":36},{"y":2006,"h":8,"v":30},{"y":2007,"h":8,"v":46},{"y":2008,"h":8,"v":48},{"y":2009,"h":8,"v":32},{"y":2010,"h":8,"v":30},{"y":2011,"h":8,"v":28},{"y":2012,"h":8,"v":26},{"y":2013,"h":8,"v":34},{"y":2014,"h":8,"v":36},{"y":2015,"h":8,"v":32},{"y":2016,"h":8,"v":30},{"y":2017,"h":8,"v":30},{"y":2018,"h":8,"v":32},{"y":2019,"h":8,"v":26},
{"y":2005,"h":7,"v":30},{"y":2006,"h":7,"v":28},{"y":2007,"h":7,"v":40},{"y":2008,"h":7,"v":44},{"y":2009,"h":7,"v":28},{"y":2010,"h":7,"v":20},{"y":2011,"h":7,"v":30},{"y":2012,"h":7,"v":28},{"y":2013,"h":7,"v":30},{"y":2014,"h":7,"v":32},{"y":2015,"h":7,"v":30},{"y":2016,"h":7,"v":28},{"y":2017,"h":7,"v":28},{"y":2018,"h":7,"v":30},{"y":2019,"h":7,"v":22},
{"y":2005,"h":6,"v":24},{"y":2006,"h":6,"v":18},{"y":2007,"h":6,"v":30},{"y":2008,"h":6,"v":34},{"y":2009,"h":6,"v":20},{"y":2010,"h":6,"v":26},{"y":2011,"h":6,"v":18},{"y":2012,"h":6,"v":20},{"y":2013,"h":6,"v":22},{"y":2014,"h":6,"v":28},{"y":2015,"h":6,"v":22},{"y":2016,"h":6,"v":22},{"y":2017,"h":6,"v":24},{"y":2018,"h":6,"v":26},{"y":2019,"h":6,"v":28},
{"y":2005,"h":5,"v":18},{"y":2006,"h":5,"v":20},{"y":2007,"h":5,"v":26},{"y":2008,"h":5,"v":30},{"y":2009,"h":5,"v":22},{"y":2010,"h":5,"v":22},{"y":2011,"h":5,"v":20},{"y":2012,"h":5,"v":20},{"y":2013,"h":5,"v":22},{"y":2014,"h":5,"v":26},{"y":2015,"h":5,"v":22},{"y":2016,"h":5,"v":20},{"y":2017,"h":5,"v":22},{"y":2018,"h":5,"v":24},{"y":2019,"h":5,"v":28},
{"y":2005,"h":4,"v":22},{"y":2006,"h":4,"v":22},{"y":2007,"h":4,"v":28},{"y":2008,"h":4,"v":30},{"y":2009,"h":4,"v":24},{"y":2010,"h":4,"v":24},{"y":2011,"h":4,"v":22},{"y":2012,"h":4,"v":22},{"y":2013,"h":4,"v":24},{"y":2014,"h":4,"v":28},{"y":2015,"h":4,"v":24},{"y":2016,"h":4,"v":22},{"y":2017,"h":4,"v":24},{"y":2018,"h":4,"v":26},{"y":2019,"h":4,"v":20},
{"y":2005,"h":3,"v":20},{"y":2006,"h":3,"v":20},{"y":2007,"h":3,"v":26},{"y":2008,"h":3,"v":30},{"y":2009,"h":3,"v":22},{"y":2010,"h":3,"v":22},{"y":2011,"h":3,"v":22},{"y":2012,"h":3,"v":20},{"y":2013,"h":3,"v":24},{"y":2014,"h":3,"v":28},{"y":2015,"h":3,"v":22},{"y":2016,"h":3,"v":22},{"y":2017,"h":3,"v":26},{"y":2018,"h":3,"v":28},{"y":2019,"h":3,"v":22},
{"y":2005,"h":2,"v":22},{"y":2006,"h":2,"v":20},{"y":2007,"h":2,"v":26},{"y":2008,"h":2,"v":28},{"y":2009,"h":2,"v":24},{"y":2010,"h":2,"v":22},{"y":2011,"h":2,"v":20},{"y":2012,"h":2,"v":22},{"y":2013,"h":2,"v":24},{"y":2014,"h":2,"v":26},{"y":2015,"h":2,"v":24},{"y":2016,"h":2,"v":20},{"y":2017,"h":2,"v":24},{"y":2018,"h":2,"v":26},{"y":2019,"h":2,"v":24},
{"y":2005,"h":1,"v":22},{"y":2006,"h":1,"v":22},{"y":2007,"h":1,"v":28},{"y":2008,"h":1,"v":30},{"y":2009,"h":1,"v":24},{"y":2010,"h":1,"v":22},{"y":2011,"h":1,"v":22},{"y":2012,"h":1,"v":22},{"y":2013,"h":1,"v":24},{"y":2014,"h":1,"v":26},{"y":2015,"h":1,"v":22},{"y":2016,"h":1,"v":22},{"y":2017,"h":1,"v":24},{"y":2018,"h":1,"v":26},{"y":2019,"h":1,"v":26},
{"y":2005,"h":0,"v":24},{"y":2006,"h":0,"v":22},{"y":2007,"h":0,"v":26},{"y":2008,"h":0,"v":30},{"y":2009,"h":0,"v":24},{"y":2010,"h":0,"v":24},{"y":2011,"h":0,"v":22},{"y":2012,"h":0,"v":22},{"y":2013,"h":0,"v":24},{"y":2014,"h":0,"v":28},{"y":2015,"h":0,"v":20},{"y":2016,"h":0,"v":18},{"y":2017,"h":0,"v":24},{"y":2018,"h":0,"v":26},{"y":2019,"h":0,"v":26}
],
"wi": [
{"y":2005,"h":23,"v":30},{"y":2006,"h":23,"v":26},{"y":2007,"h":23,"v":45},{"y":2008,"h":23,"v":36},{"y":2009,"h":23,"v":32},{"y":2010,"h":23,"v":14},{"y":2011,"h":23,"v":18},{"y":2012,"h":23,"v":20},{"y":2013,"h":23,"v":24},{"y":2014,"h":23,"v":26},{"y":2015,"h":23,"v":30},{"y":2016,"h":23,"v":32},{"y":2017,"h":23,"v":30},{"y":2018,"h":23,"v":28},{"y":2019,"h":23,"v":26},
{"y":2005,"h":22,"v":32},{"y":2006,"h":22,"v":28},{"y":2007,"h":22,"v":50},{"y":2008,"h":22,"v":38},{"y":2009,"h":22,"v":34},{"y":2010,"h":22,"v":14},{"y":2011,"h":22,"v":20},{"y":2012,"h":22,"v":22},{"y":2013,"h":22,"v":26},{"y":2014,"h":22,"v":30},{"y":2015,"h":22,"v":32},{"y":2016,"h":22,"v":34},{"y":2017,"h":22,"v":32},{"y":2018,"h":22,"v":30},{"y":2019,"h":22,"v":28},
{"y":2005,"h":21,"v":34},{"y":2006,"h":21,"v":30},{"y":2007,"h":21,"v":60},{"y":2008,"h":21,"v":42},{"y":2009,"h":21,"v":38},{"y":2010,"h":21,"v":14},{"y":2011,"h":21,"v":20},{"y":2012,"h":21,"v":22},{"y":2013,"h":21,"v":26},{"y":2014,"h":21,"v":30},{"y":2015,"h":21,"v":34},{"y":2016,"h":21,"v":36},{"y":2017,"h":21,"v":34},{"y":2018,"h":21,"v":32},{"y":2019,"h":21,"v":28},
{"y":2005,"h":20,"v":36},{"y":2006,"h":20,"v":32},{"y":2007,"h":20,"v":72},{"y":2008,"h":20,"v":52},{"y":2009,"h":20,"v":45},{"y":2010,"h":20,"v":16},{"y":2011,"h":20,"v":22},{"y":2012,"h":20,"v":24},{"y":2013,"h":20,"v":28},{"y":2014,"h":20,"v":32},{"y":2015,"h":20,"v":36},{"y":2016,"h":20,"v":38},{"y":2017,"h":20,"v":34},{"y":2018,"h":20,"v":34},{"y":2019,"h":20,"v":30},
{"y":2005,"h":19,"v":36},{"y":2006,"h":19,"v":32},{"y":2007,"h":19,"v":75},{"y":2008,"h":19,"v":48},{"y":2009,"h":19,"v":52},{"y":2010,"h":19,"v":16},{"y":2011,"h":19,"v":22},{"y":2012,"h":19,"v":24},{"y":2013,"h":19,"v":28},{"y":2014,"h":19,"v":32},{"y":2015,"h":19,"v":36},{"y":2016,"h":19,"v":38},{"y":2017,"h":19,"v":36},{"y":2018,"h":19,"v":34},{"y":2019,"h":19,"v":30},
{"y":2005,"h":18,"v":38},{"y":2006,"h":18,"v":34},{"y":2007,"h":18,"v":90},{"y":2008,"h":18,"v":52},{"y":2009,"h":18,"v":55},{"y":2010,"h":18,"v":16},{"y":2011,"h":18,"v":22},{"y":2012,"h":18,"v":24},{"y":2013,"h":18,"v":30},{"y":2014,"h":18,"v":34},{"y":2015,"h":18,"v":38},{"y":2016,"h":18,"v":40},{"y":2017,"h":18,"v":38},{"y":2018,"h":18,"v":36},{"y":2019,"h":18,"v":30},
{"y":2005,"h":17,"v":38},{"y":2006,"h":17,"v":34},{"y":2007,"h":17,"v":102},{"y":2008,"h":17,"v":55},{"y":2009,"h":17,"v":58},{"y":2010,"h":17,"v":16},{"y":2011,"h":17,"v":24},{"y":2012,"h":17,"v":26},{"y":2013,"h":17,"v":30},{"y":2014,"h":17,"v":34},{"y":2015,"h":17,"v":38},{"y":2016,"h":17,"v":42},{"y":2017,"h":17,"v":38},{"y":2018,"h":17,"v":36},{"y":2019,"h":17,"v":32},
{"y":2005,"h":16,"v":40},{"y":2006,"h":16,"v":50},{"y":2007,"h":16,"v":118},{"y":2008,"h":16,"v":58},{"y":2009,"h":16,"v":68},{"y":2010,"h":16,"v":16},{"y":2011,"h":16,"v":24},{"y":2012,"h":16,"v":26},{"y":2013,"h":16,"v":30},{"y":2014,"h":16,"v":36},{"y":2015,"h":16,"v":40},{"y":2016,"h":16,"v":44},{"y":2017,"h":16,"v":40},{"y":2018,"h":16,"v":38},{"y":2019,"h":16,"v":32},
{"y":2005,"h":15,"v":42},{"y":2006,"h":15,"v":52},{"y":2007,"h":15,"v":132},{"y":2008,"h":15,"v":60},{"y":2009,"h":15,"v":62},{"y":2010,"h":15,"v":16},{"y":2011,"h":15,"v":26},{"y":2012,"h":15,"v":28},{"y":2013,"h":15,"v":32},{"y":2014,"h":15,"v":36},{"y":2015,"h":15,"v":42},{"y":2016,"h":15,"v":46},{"y":2017,"h":15,"v":48},{"y":2018,"h":15,"v":38},{"y":2019,"h":15,"v":34},
{"y":2005,"h":14,"v":40},{"y":2006,"h":14,"v":50},{"y":2007,"h":14,"v":98},{"y":2008,"h":14,"v":58},{"y":2009,"h":14,"v":60},{"y":2010,"h":14,"v":16},{"y":2011,"h":14,"v":24},{"y":2012,"h":14,"v":26},{"y":2013,"h":14,"v":32},{"y":2014,"h":14,"v":36},{"y":2015,"h":14,"v":40},{"y":2016,"h":14,"v":44},{"y":2017,"h":14,"v":40},{"y":2018,"h":14,"v":38},{"y":2019,"h":14,"v":32},
{"y":2005,"h":13,"v":38},{"y":2006,"h":13,"v":48},{"y":2007,"h":13,"v":95},{"y":2008,"h":13,"v":56},{"y":2009,"h":13,"v":58},{"y":2010,"h":13,"v":16},{"y":2011,"h":13,"v":24},{"y":2012,"h":13,"v":26},{"y":2013,"h":13,"v":30},{"y":2014,"h":13,"v":34},{"y":2015,"h":13,"v":38},{"y":2016,"h":13,"v":42},{"y":2017,"h":13,"v":38},{"y":2018,"h":13,"v":36},{"y":2019,"h":13,"v":32},
{"y":2005,"h":12,"v":36},{"y":2006,"h":12,"v":46},{"y":2007,"h":12,"v":115},{"y":2008,"h":12,"v":56},{"y":2009,"h":12,"v":60},{"y":2010,"h":12,"v":18},{"y":2011,"h":12,"v":24},{"y":2012,"h":12,"v":26},{"y":2013,"h":12,"v":30},{"y":2014,"h":12,"v":34},{"y":2015,"h":12,"v":38},{"y":2016,"h":12,"v":42},{"y":2017,"h":12,"v":38},{"y":2018,"h":12,"v":36},{"y":2019,"h":12,"v":30},
{"y":2005,"h":11,"v":34},{"y":2006,"h":11,"v":44},{"y":2007,"h":11,"v":108},{"y":2008,"h":11,"v":52},{"y":2009,"h":11,"v":58},{"y":2010,"h":11,"v":18},{"y":2011,"h":11,"v":22},{"y":2012,"h":11,"v":24},{"y":2013,"h":11,"v":28},{"y":2014,"h":11,"v":32},{"y":2015,"h":11,"v":36},{"y":2016,"h":11,"v":40},{"y":2017,"h":11,"v":36},{"y":2018,"h":11,"v":34},{"y":2019,"h":11,"v":30},
{"y":2005,"h":10,"v":32},{"y":2006,"h":10,"v":40},{"y":2007,"h":10,"v":105},{"y":2008,"h":10,"v":50},{"y":2009,"h":10,"v":45},{"y":2010,"h":10,"v":18},{"y":2011,"h":10,"v":22},{"y":2012,"h":10,"v":24},{"y":2013,"h":10,"v":28},{"y":2014,"h":10,"v":32},{"y":2015,"h":10,"v":34},{"y":2016,"h":10,"v":38},{"y":2017,"h":10,"v":34},{"y":2018,"h":10,"v":32},{"y":2019,"h":10,"v":28},
{"y":2005,"h":9,"v":30},{"y":2006,"h":9,"v":28},{"y":2007,"h":9,"v":90},{"y":2008,"h":9,"v":48},{"y":2009,"h":9,"v":40},{"y":2010,"h":9,"v":18},{"y":2011,"h":9,"v":20},{"y":2012,"h":9,"v":22},{"y":2013,"h":9,"v":26},{"y":2014,"h":9,"v":30},{"y":2015,"h":9,"v":32},{"y":2016,"h":9,"v":36},{"y":2017,"h":9,"v":32},{"y":2018,"h":9,"v":30},{"y":2019,"h":9,"v":26},
{"y":2005,"h":8,"v":28},{"y":2006,"h":8,"v":26},{"y":2007,"h":8,"v":75},{"y":2008,"h":8,"v":44},{"y":2009,"h":8,"v":36},{"y":2010,"h":8,"v":18},{"y":2011,"h":8,"v":20},{"y":2012,"h":8,"v":22},{"y":2013,"h":8,"v":26},{"y":2014,"h":8,"v":28},{"y":2015,"h":8,"v":30},{"y":2016,"h":8,"v":34},{"y":2017,"h":8,"v":30},{"y":2018,"h":8,"v":24},{"y":2019,"h":8,"v":22},
{"y":2005,"h":7,"v":26},{"y":2006,"h":7,"v":24},{"y":2007,"h":7,"v":62},{"y":2008,"h":7,"v":40},{"y":2009,"h":7,"v":32},{"y":2010,"h":7,"v":16},{"y":2011,"h":7,"v":18},{"y":2012,"h":7,"v":20},{"y":2013,"h":7,"v":24},{"y":2014,"h":7,"v":26},{"y":2015,"h":7,"v":28},{"y":2016,"h":7,"v":32},{"y":2017,"h":7,"v":28},{"y":2018,"h":7,"v":22},{"y":2019,"h":7,"v":18},
{"y":2005,"h":6,"v":20},{"y":2006,"h":6,"v":22},{"y":2007,"h":6,"v":40},{"y":2008,"h":6,"v":30},{"y":2009,"h":6,"v":26},{"y":2010,"h":6,"v":14},{"y":2011,"h":6,"v":16},{"y":2012,"h":6,"v":16},{"y":2013,"h":6,"v":20},{"y":2014,"h":6,"v":22},{"y":2015,"h":6,"v":20},{"y":2016,"h":6,"v":26},{"y":2017,"h":6,"v":24},{"y":2018,"h":6,"v":20},{"y":2019,"h":6,"v":16},
{"y":2005,"h":5,"v":18},{"y":2006,"h":5,"v":20},{"y":2007,"h":5,"v":30},{"y":2008,"h":5,"v":22},{"y":2009,"h":5,"v":18},{"y":2010,"h":5,"v":14},{"y":2011,"h":5,"v":14},{"y":2012,"h":5,"v":16},{"y":2013,"h":5,"v":18},{"y":2014,"h":5,"v":20},{"y":2015,"h":5,"v":20},{"y":2016,"h":5,"v":20},{"y":2017,"h":5,"v":18},{"y":2018,"h":5,"v":18},{"y":2019,"h":5,"v":14},
{"y":2005,"h":4,"v":18},{"y":2006,"h":4,"v":20},{"y":2007,"h":4,"v":28},{"y":2008,"h":4,"v":24},{"y":2009,"h":4,"v":20},{"y":2010,"h":4,"v":14},{"y":2011,"h":4,"v":16},{"y":2012,"h":4,"v":16},{"y":2013,"h":4,"v":18},{"y":2014,"h":4,"v":20},{"y":2015,"h":4,"v":20},{"y":2016,"h":4,"v":22},{"y":2017,"h":4,"v":20},{"y":2018,"h":4,"v":20},{"y":2019,"h":4,"v":18},
{"y":2005,"h":3,"v":20},{"y":2006,"h":3,"v":22},{"y":2007,"h":3,"v":28},{"y":2008,"h":3,"v":26},{"y":2009,"h":3,"v":22},{"y":2010,"h":3,"v":14},{"y":2011,"h":3,"v":16},{"y":2012,"h":3,"v":18},{"y":2013,"h":3,"v":20},{"y":2014,"h":3,"v":22},{"y":2015,"h":3,"v":22},{"y":2016,"h":3,"v":24},{"y":2017,"h":3,"v":22},{"y":2018,"h":3,"v":22},{"y":2019,"h":3,"v":20},
{"y":2005,"h":2,"v":20},{"y":2006,"h":2,"v":22},{"y":2007,"h":2,"v":28},{"y":2008,"h":2,"v":26},{"y":2009,"h":2,"v":22},{"y":2010,"h":2,"v":14},{"y":2011,"h":2,"v":16},{"y":2012,"h":2,"v":18},{"y":2013,"h":2,"v":20},{"y":2014,"h":2,"v":22},{"y":2015,"h":2,"v":22},{"y":2016,"h":2,"v":24},{"y":2017,"h":2,"v":22},{"y":2018,"h":2,"v":22},{"y":2019,"h":2,"v":22},
{"y":2005,"h":1,"v":22},{"y":2006,"h":1,"v":24},{"y":2007,"h":1,"v":28},{"y":2008,"h":1,"v":28},{"y":2009,"h":1,"v":24},{"y":2010,"h":1,"v":14},{"y":2011,"h":1,"v":16},{"y":2012,"h":1,"v":18},{"y":2013,"h":1,"v":20},{"y":2014,"h":1,"v":22},{"y":2015,"h":1,"v":24},{"y":2016,"h":1,"v":26},{"y":2017,"h":1,"v":24},{"y":2018,"h":1,"v":24},{"y":2019,"h":1,"v":22},
{"y":2005,"h":0,"v":24},{"y":2006,"h":0,"v":26},{"y":2007,"h":0,"v":30},{"y":2008,"h":0,"v":30},{"y":2009,"h":0,"v":24},{"y":2010,"h":0,"v":16},{"y":2011,"h":0,"v":18},{"y":2012,"h":0,"v":18},{"y":2013,"h":0,"v":22},{"y":2014,"h":0,"v":24},{"y":2015,"h":0,"v":24},{"y":2016,"h":0,"v":28},{"y":2017,"h":0,"v":26},{"y":2018,"h":0,"v":24},{"y":2019,"h":0,"v":24}
]
},
"config": {
"view": {"stroke": "#1a1a1a", "strokeWidth": 1.5},
"font": "Liberation Sans",
"axis": {"labelFont": "Liberation Sans", "labelFontSize": 21, "labelColor": "#1a1a1a", "tickColor": "#1a1a1a", "tickWidth": 1.5, "domain": false, "grid": false, "titleFont": "Liberation Sans", "titleFontWeight": "normal", "titleColor": "#1a1a1a"},
"legend": {"orient": "right", "offset": 8, "gradientLength": 226, "gradientThickness": 31, "gradientStrokeColor": "#1a1a1a", "gradientStrokeWidth": 1.5, "labelFont": "Liberation Sans", "labelFontSize": 21, "labelColor": "#1a1a1a", "labelOffset": 20, "labelOverlap": false, "titleFont": "Liberation Serif", "titleFontSize": 20, "titleFontWeight": "normal", "titleColor": "#1a1a1a", "titleAnchor": "middle", "titlePadding": 12, "titleLimit": 300}
},
"spacing": 0,
"bounds": "flush",
"hconcat": [
{
"width": 185, "height": 285,
"layer": [
{"data": {"name": "sp"}, "mark": {"type": "rect"},
"encoding": {
"x": {"field": "y", "type": "ordinal", "scale": {"paddingInner": 0.16, "paddingOuter": 0.08}, "axis": null},
"y": {"field": "h", "type": "ordinal", "scale": {"domain": [25,24,23,22,21,20,19,18,17,16,15,14,13,12,11,10,9,8,7,6,5,4,3,2,1,0], "paddingInner": 0.18, "paddingOuter": 0.5, "align": 0.91}, "axis": {"orient": "left", "values": [0,2,4,6,8,10,12,14,16,18,20,22], "labelExpr": "datum.value < 10 ? '0' + datum.value : '' + datum.value", "ticks": false, "labelPadding": 29, "title": "hour", "titleFontSize": 28, "titlePadding": 23, "titleY": 158}},
"color": {"field": "v", "type": "quantitative", "title": "PM₁₀- PM₂.₅ [μg/m³]", "scale": {"scheme": "spectral", "reverse": true, "domain": [-0.5, 150], "clamp": true}, "legend": {"values": [0,20,40,60,80,100,120,140], "labelOffset": 20, "labelExpr": "datum.value >= 140 ? '> 140' : datum.label"}}
}},
{"data": {"values": [{}]}, "mark": {"type": "rule", "color": "#1a1a1a", "strokeWidth": 1.5},
"encoding": {
"x": {"datum": 0.1, "type": "quantitative", "scale": {"domain": [0.1, 3.1], "nice": false, "zero": false}, "axis": {"orient": "bottom", "values": [1,2,3], "labels": false, "tickSize": 12, "title": null}},
"x2": {"datum": 3.1},
"y": {"datum": 4.881, "type": "quantitative", "scale": {"domain": [0.1, 5.444], "nice": false, "zero": false}, "axis": null}
}},
{"data": {"values": [{"t": "spring (MAM)"}]}, "mark": {"type": "text", "fontSize": 23.5, "font": "Liberation Sans", "color": "#1a1a1a"},
"encoding": {
"text": {"field": "t"},
"x": {"datum": 1.6, "type": "quantitative", "scale": {"domain": [0.1, 3.1], "nice": false, "zero": false}, "axis": {"orient": "top", "values": [1,2,3], "labels": false, "tickSize": 12, "title": null}},
"y": {"datum": 5.163, "type": "quantitative", "scale": {"domain": [0.1, 5.444], "nice": false, "zero": false}, "axis": {"orient": "left", "values": [1,2,3,4], "labels": false, "tickSize": 13, "title": null}}
}}
],
"resolve": {"scale": {"x": "independent", "y": "independent"}}
},
{
"width": 185, "height": 285,
"layer": [
{"data": {"name": "su"}, "mark": {"type": "rect"},
"encoding": {
"x": {"field": "y", "type": "ordinal", "scale": {"paddingInner": 0.16, "paddingOuter": 0.08}, "axis": {"orient": "top", "values": [2005,2007,2009,2011,2013,2015,2017,2019], "labelAngle": -90, "ticks": false, "labelPadding": 31, "title": null}},
"y": {"field": "h", "type": "ordinal", "scale": {"domain": [25,24,23,22,21,20,19,18,17,16,15,14,13,12,11,10,9,8,7,6,5,4,3,2,1,0], "paddingInner": 0.18, "paddingOuter": 0.5, "align": 0.91}, "axis": null},
"color": {"field": "v", "type": "quantitative", "title": "PM₁₀- PM₂.₅ [μg/m³]", "scale": {"scheme": "spectral", "reverse": true, "domain": [-0.5, 150], "clamp": true}, "legend": {"values": [0,20,40,60,80,100,120,140], "labelOffset": 20, "labelExpr": "datum.value >= 140 ? '> 140' : datum.label"}}
}},
{"data": {"values": [{}]}, "mark": {"type": "rule", "color": "#1a1a1a", "strokeWidth": 1.5},
"encoding": {
"x": {"datum": 0.1, "type": "quantitative", "scale": {"domain": [0.1, 3.1], "nice": false, "zero": false}, "axis": {"orient": "bottom", "values": [1,2,3], "labels": false, "tickSize": 12, "title": null}},
"x2": {"datum": 3.1},
"y": {"datum": 4.881, "type": "quantitative", "scale": {"domain": [0.1, 5.444], "nice": false, "zero": false}, "axis": null}
}},
{"data": {"values": [{"t": "summer (JJA)"}]}, "mark": {"type": "text", "fontSize": 23.5, "font": "Liberation Sans", "color": "#1a1a1a"},
"encoding": {
"text": {"field": "t"},
"x": {"datum": 1.6, "type": "quantitative", "scale": {"domain": [0.1, 3.1], "nice": false, "zero": false}, "axis": {"orient": "top", "values": [1,2,3], "labels": false, "tickSize": 12, "title": null}},
"y": {"datum": 5.163, "type": "quantitative", "scale": {"domain": [0.1, 5.444], "nice": false, "zero": false}, "axis": null}
}}
],
"resolve": {"scale": {"x": "independent", "y": "independent"}}
},
{
"width": 185, "height": 285,
"layer": [
{"data": {"name": "au"}, "mark": {"type": "rect"},
"encoding": {
"x": {"field": "y", "type": "ordinal", "scale": {"paddingInner": 0.16, "paddingOuter": 0.08}, "axis": null},
"y": {"field": "h", "type": "ordinal", "scale": {"domain": [25,24,23,22,21,20,19,18,17,16,15,14,13,12,11,10,9,8,7,6,5,4,3,2,1,0], "paddingInner": 0.18, "paddingOuter": 0.5, "align": 0.91}, "axis": null},
"color": {"field": "v", "type": "quantitative", "title": "PM₁₀- PM₂.₅ [μg/m³]", "scale": {"scheme": "spectral", "reverse": true, "domain": [-0.5, 150], "clamp": true}, "legend": {"values": [0,20,40,60,80,100,120,140], "labelOffset": 20, "labelExpr": "datum.value >= 140 ? '> 140' : datum.label"}}
}},
{"data": {"values": [{}]}, "mark": {"type": "rule", "color": "#1a1a1a", "strokeWidth": 1.5},
"encoding": {
"x": {"datum": 0.1, "type": "quantitative", "scale": {"domain": [0.1, 3.1], "nice": false, "zero": false}, "axis": {"orient": "bottom", "values": [1,2,3], "labels": false, "tickSize": 12, "title": null}},
"x2": {"datum": 3.1},
"y": {"datum": 4.881, "type": "quantitative", "scale": {"domain": [0.1, 5.444], "nice": false, "zero": false}, "axis": null}
}},
{"data": {"values": [{"t": "autumn (SON)"}]}, "mark": {"type": "text", "fontSize": 23.5, "font": "Liberation Sans", "color": "#1a1a1a"},
"encoding": {
"text": {"field": "t"},
"x": {"datum": 1.6, "type": "quantitative", "scale": {"domain": [0.1, 3.1], "nice": false, "zero": false}, "axis": {"orient": "top", "values": [1,2,3], "labels": false, "tickSize": 12, "title": null}},
"y": {"datum": 5.163, "type": "quantitative", "scale": {"domain": [0.1, 5.444], "nice": false, "zero": false}, "axis": null}
}}
],
"resolve": {"scale": {"x": "independent", "y": "independent"}}
},
{
"width": 185, "height": 285,
"layer": [
{"data": {"name": "wi"}, "mark": {"type": "rect"},
"encoding": {
"x": {"field": "y", "type": "ordinal", "scale": {"paddingInner": 0.16, "paddingOuter": 0.08}, "axis": {"orient": "top", "values": [2005,2007,2009,2011,2013,2015,2017,2019], "labelAngle": -90, "ticks": false, "labelPadding": 31, "title": null}},
"y": {"field": "h", "type": "ordinal", "scale": {"domain": [25,24,23,22,21,20,19,18,17,16,15,14,13,12,11,10,9,8,7,6,5,4,3,2,1,0], "paddingInner": 0.18, "paddingOuter": 0.5, "align": 0.91}, "axis": null},
"color": {"field": "v", "type": "quantitative", "title": "PM₁₀- PM₂.₅ [μg/m³]", "scale": {"scheme": "spectral", "reverse": true, "domain": [-0.5, 150], "clamp": true}, "legend": {"values": [0,20,40,60,80,100,120,140], "labelOffset": 20, "labelExpr": "datum.value >= 140 ? '> 140' : datum.label"}}
}},
{"data": {"values": [{}]}, "mark": {"type": "rule", "color": "#1a1a1a", "strokeWidth": 1.5},
"encoding": {
"x": {"datum": 0.1, "type": "quantitative", "scale": {"domain": [0.1, 3.1], "nice": false, "zero": false}, "axis": {"orient": "bottom", "values": [1,2,3], "labels": false, "tickSize": 12, "title": null}},
"x2": {"datum": 3.1},
"y": {"datum": 4.881, "type": "quantitative", "scale": {"domain": [0.1, 5.444], "nice": false, "zero": false}, "axis": null}
}},
{"data": {"values": [{"t": "winter (DJF)"}]}, "mark": {"type": "text", "fontSize": 23.5, "font": "Liberation Sans", "color": "#1a1a1a"},
"encoding": {
"text": {"field": "t"},
"x": {"datum": 1.6, "type": "quantitative", "scale": {"domain": [0.1, 3.1], "nice": false, "zero": false}, "axis": {"orient": "top", "values": [1,2,3], "labels": false, "tickSize": 12, "title": null}},
"y": {"datum": 5.163, "type": "quantitative", "scale": {"domain": [0.1, 5.444], "nice": false, "zero": false}, "axis": {"orient": "right", "values": [1,2,3,4], "labels": false, "tickSize": 13, "title": null}}
}}
],
"resolve": {"scale": {"x": "independent", "y": "independent"}}
}
]
}
